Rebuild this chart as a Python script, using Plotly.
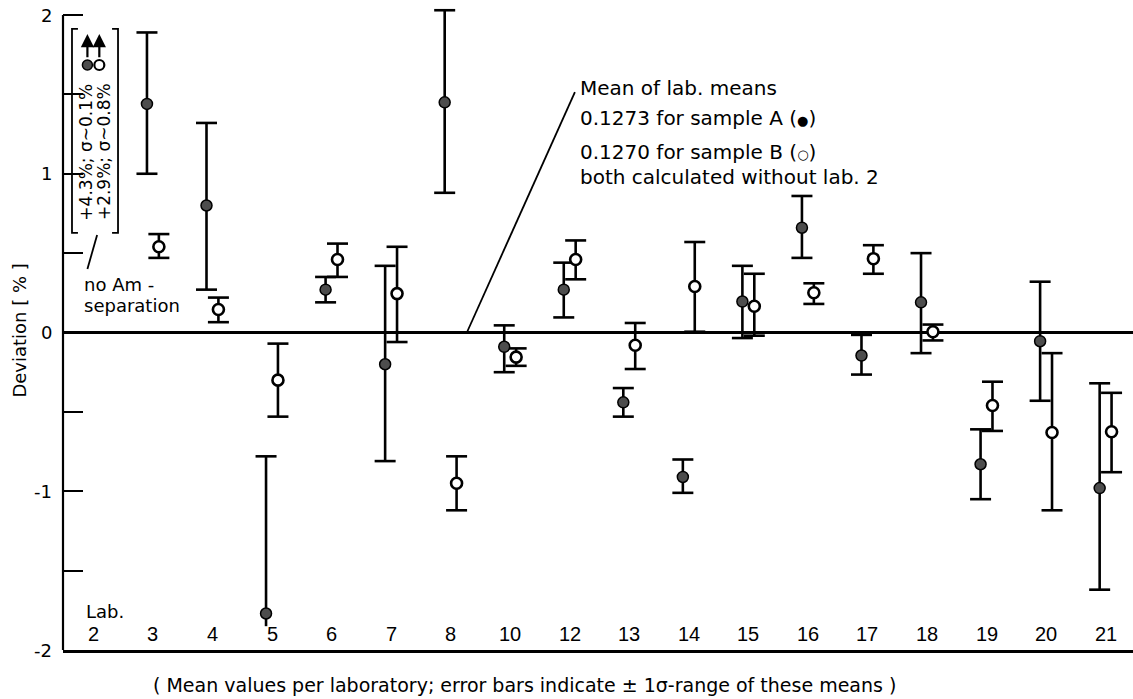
import plotly.graph_objects as go

# ---------------- data ----------------
labs = [2, 3, 4, 5, 6, 7, 8, 10, 12, 13, 14, 15, 16, 17, 18, 19, 20, 21]

# sample A (filled) : mean deviation [%], lower / upper end of +-1 sigma range
a_mean = [None, 1.44, 0.80, -1.77, 0.27, -0.20, 1.45, -0.09, 0.27, -0.44, -0.91, 0.195, 0.66, -0.145, 0.19, -0.83, -0.055, -0.98]
a_lo   = [None, 1.00, 0.27, -1.85, 0.19, -0.81, 0.88, -0.25, 0.095, -0.53, -1.01, -0.035, 0.47, -0.265, -0.13, -1.05, -0.43, -1.62]
a_hi   = [None, 1.89, 1.32, -0.78, 0.35, 0.42, 2.03, 0.045, 0.44, -0.35, -0.80, 0.42, 0.86, -0.015, 0.50, -0.61, 0.32, -0.32]
a_lo_cap = [True] * len(labs)
a_lo_cap[3] = False  # lab 5: lower bar runs out of the frame without cap

# sample B (open)
b_mean = [None, 0.54, 0.145, -0.30, 0.46, 0.245, -0.95, -0.155, 0.46, -0.08, 0.29, 0.165, 0.25, 0.465, 0.005, -0.46, -0.63, -0.625]
b_lo   = [None, 0.47, 0.065, -0.53, 0.35, -0.06, -1.12, -0.21, 0.335, -0.23, 0.005, -0.02, 0.18, 0.37, -0.05, -0.62, -1.12, -0.88]
b_hi   = [None, 0.62, 0.22, -0.07, 0.56, 0.54, -0.78, -0.10, 0.58, 0.06, 0.57, 0.37, 0.31, 0.55, 0.05, -0.31, -0.13, -0.38]

# lab 2 (off scale, no Am separation)
lab2_text = ["+4.3%; σ~0.1%", "+2.9%; σ~0.8%"]

y_tickvals = [-2, -1.5, -1, -0.5, 0, 0.5, 1, 1.5, 2]
y_labelvals = [-2, -1, 0, 1, 2]
y_labeltext = ["-2", "-1", "0", "1", "2"]

mean_lines = ["Mean of lab. means",
              "0.1273 for sample A (<span style='font-size:13px'>●</span>)",
              "0.1270 for sample B (<span style='font-size:13px'>○</span>)",
              "both calculated without lab. 2"]
caption = "( Mean values per laboratory; error bars indicate ± 1σ-range of these means )"

FONT = "DejaVu Sans, Liberation Sans, sans-serif"
FONT_N = "Liberation Sans, Arial, sans-serif"
B_OFF = 0.2

# ---------------- build ----------------
fig = go.Figure()

def bars(xs_base, mean, lo, hi, caps_lo):
    sx, sy, cx, cy = [], [], [], []
    for i, (m, l, h) in enumerate(zip(mean, lo, hi)):
        if m is None:
            continue
        x = xs_base[i]
        sx += [x, x, None]
        sy += [l, h, None]
        cx.append(x); cy.append(h)
        if caps_lo[i]:
            cx.append(x); cy.append(l)
    return sx, sy, cx, cy

xa = [i for i in range(len(labs))]
xb = [i + B_OFF for i in range(len(labs))]

for xs, mean, lo, hi, caps in [(xa, a_mean, a_lo, a_hi, a_lo_cap),
                                (xb, b_mean, b_lo, b_hi, [True] * len(labs))]:
    sx, sy, cx, cy = bars(xs, mean, lo, hi, caps)
    fig.add_trace(go.Scatter(x=sx, y=sy, mode="lines",
                             line=dict(color="black", width=2.6),
                             cliponaxis=False, hoverinfo="skip"))
    fig.add_trace(go.Scatter(x=cx, y=cy, mode="markers",
                             marker=dict(symbol="line-ew", size=15,
                                         line=dict(color="black", width=2.6)),
                             cliponaxis=False, hoverinfo="skip"))

fig.add_trace(go.Scatter(
    x=[xa[i] for i in range(len(labs)) if a_mean[i] is not None],
    y=[v for v in a_mean if v is not None], mode="markers",
    marker=dict(symbol="circle", size=11, color="#4d4d4d",
                line=dict(color="black", width=1.5)),
    cliponaxis=False))
fig.add_trace(go.Scatter(
    x=[xb[i] for i in range(len(labs)) if b_mean[i] is not None],
    y=[v for v in b_mean if v is not None], mode="markers",
    marker=dict(symbol="circle", size=11, color="white",
                line=dict(color="black", width=2.6)),
    cliponaxis=False))

# lab 2 indicator (values out of scale, shown with arrows)
ind_y = 1.685
fig.add_trace(go.Scatter(x=[xa[0]], y=[ind_y], mode="markers",
                         marker=dict(symbol="circle", size=10, color="#4d4d4d",
                                     line=dict(color="black", width=1.5))))
fig.add_trace(go.Scatter(x=[xb[0]], y=[ind_y], mode="markers",
                         marker=dict(symbol="circle", size=10, color="white",
                                     line=dict(color="black", width=2.2))))

ann = []
# y axis title first
ann.append(dict(x=-0.052, y=0.495, xref="paper", yref="paper", text="Deviation [ % ]",
                textangle=-90, showarrow=False, bgcolor="rgba(0,0,0,0)",
                font=dict(family=FONT, size=18, color="black")))
# y tick labels
for v, t in zip(y_labelvals, y_labeltext):
    ann.append(dict(x=0, y=v, xref="paper", yref="y", text=t, xanchor="right",
                    xshift=-9, showarrow=False,
                    font=dict(family=FONT, size=18, color="black")))

for x in (xa[0], xb[0]):
    ann.append(dict(x=x, y=1.88, ax=x, ay=ind_y + 0.04, xref="x", yref="y",
                    axref="x", ayref="y", showarrow=True, arrowhead=2,
                    arrowsize=1.2, arrowwidth=2.2, arrowcolor="black", text=""))

# rotated lab 2 texts
for k, t in enumerate(lab2_text):
    ann.append(dict(x=-0.03 + 0.31 * k, y=1.137, xref="x", yref="y", text=t,
                    textangle=-90, showarrow=False,
                    font=dict(family=FONT, size=17, color="black")))

shapes = []
# left axis line, from -2 to 2
shapes.append(dict(type="line", xref="paper", yref="y", x0=0, x1=0, y0=-2, y1=2,
                   line=dict(color="black", width=2.2), layer="above"))
# brackets around lab 2 box
bl, br, bt, bb, ser = -0.259, 0.514, 1.912, 0.627, 0.1
for pts in ([(bl + ser, bt), (bl, bt), (bl, bb), (bl + ser, bb)],
            [(br - ser, bt), (br, bt), (br, bb), (br - ser, bb)]):
    path = "M " + " L ".join(f"{px},{py}" for px, py in pts)
    shapes.append(dict(type="path", path=path, xref="x", yref="y",
                       line=dict(color="black", width=1.8)))
# leader for "no Am - separation"
shapes.append(dict(type="line", xref="x", yref="y", x0=0.163, y0=0.614, x1=0.0, y1=0.40,
                   line=dict(color="black", width=1.8)))
# leader for mean annotation
shapes.append(dict(type="line", xref="x", yref="y", x0=8.187, y0=1.514, x1=6.373, y1=0,
                   line=dict(color="black", width=1.8)))

ann.append(dict(x=-0.09, y=0.305, xref="x", yref="y", text="no Am -", xanchor="left",
                showarrow=False, font=dict(family=FONT, size=18, color="black")))
ann.append(dict(x=-0.09, y=0.172, xref="x", yref="y", text="separation", xanchor="left",
                showarrow=False, font=dict(family=FONT, size=18, color="black")))

for t, yv in zip(mean_lines, [1.540, 1.351, 1.137, 0.98]):
    ann.append(dict(x=8.237, y=yv, xref="x", yref="y", text=t, xanchor="left",
                    showarrow=False, font=dict(family=FONT, size=20, color="black")))

# laboratory labels inside the frame
ann.append(dict(x=-0.057, y=-1.76, xref="x", yref="y", text="Lab.", xanchor="left",
                showarrow=False, font=dict(family=FONT, size=18, color="black")))
for i, l in enumerate(labs):
    ann.append(dict(x=i + B_OFF / 2, y=-1.90, xref="x", yref="y", text=str(l),
                    showarrow=False, font=dict(family=FONT_N, size=20, color="black")))

ann.append(dict(x=0.431, y=-0.055, xref="paper", yref="paper", text=caption,
                showarrow=False, yanchor="middle",
                font=dict(family=FONT, size=19, color="black")))

fig.update_layout(
    width=1133, height=699,
    margin=dict(l=63, r=0, t=5, b=49),
    plot_bgcolor="white", paper_bgcolor="white",
    showlegend=False,
    font=dict(family=FONT, color="black"),
    annotations=ann, shapes=shapes,
    xaxis=dict(range=[-0.41, 17.56], showgrid=False, zeroline=False,
               showline=True, linecolor="black", linewidth=2.6,
               showticklabels=False, ticks=""),
    yaxis=dict(range=[-2, 2.063], showgrid=False,
               zeroline=True, zerolinecolor="black", zerolinewidth=2.6,
               showline=False,
               tickvals=y_tickvals, showticklabels=False,
               ticks="inside", ticklen=20, tickwidth=2, tickcolor="black"),
)

fig.write_html("out.html")
